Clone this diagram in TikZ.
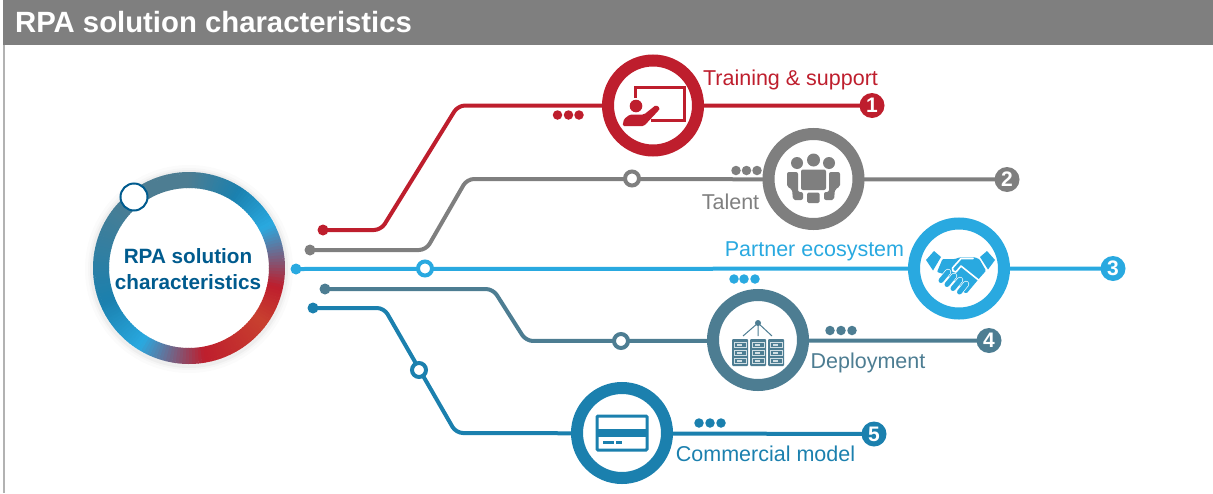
\documentclass[tikz,border=0pt]{standalone}
\usepackage{fontspec}
\setmainfont{Liberation Sans}
\usetikzlibrary{backgrounds}
\definecolor{cred}{HTML}{BE1E2D}
\definecolor{cgray}{HTML}{7F7F7F}
\definecolor{csky}{HTML}{29A9E0}
\definecolor{csteel}{HTML}{4D7D92}
\definecolor{cteal}{HTML}{1B80AE}
\definecolor{cnavy}{HTML}{005B8E}
\definecolor{corange}{HTML}{C8402F}
\tikzset{
 wire/.style={line width=4pt,line join=round,rounded corners=7pt},
 enddot/.style={circle,fill=#1,inner sep=0pt,minimum size=11pt},
 hollow/.style={circle,draw=#1,fill=white,line width=4pt,inner sep=0pt,minimum size=14pt},
 bigring/.style={circle,draw=#1,fill=white,line width=12pt,inner sep=0pt,minimum size=90pt},
 badge/.style={circle,fill=#1,text=white,inner sep=0pt,minimum size=25pt,font=\fontsize{21}{21}\selectfont\bfseries},
 pip/.style={circle,fill=#1,inner sep=0pt,minimum size=9.5pt},
 lab/.style={text=#1,font=\fontsize{21.5}{23}\selectfont,inner sep=0pt,anchor=center},
}
\begin{document}
\begin{tikzpicture}[x=1pt,y=-1pt]
\useasboundingbox (0,0) rectangle (1213,493);
% frame and header
\node[fill=cgray,inner sep=0pt,minimum width=1210pt,minimum height=45pt,anchor=north west] (head) at (3,0) {};
\node[text=white,font=\fontsize{29.3}{30}\selectfont\bfseries,anchor=west,inner sep=0pt] (title) at (15,22.5) {RPA solution characteristics};
\coordinate (fa) at (4,45); \coordinate (fb) at (4,493);
\draw[color=cgray!60,line width=2pt] (fa) -- (fb);
% hub shadow
\foreach \r/\o in {104/.015,101/.02,99/.03}{\fill[black,opacity=\o] (189,269) circle[radius=\r];}
% hub
\node[circle,fill=white,minimum size=166pt,inner sep=0pt,align=center,text=cnavy,font=\fontsize{20.7}{26}\selectfont\bfseries] (hub) at (188,269.5) {RPA solution\\characteristics};
\coordinate (hc) at (189,268);
\foreach \aa/\ab/\ca/\cb in {
 130/90/csteel/csteel, 90/58/csteel/cteal, 58/28/cteal/csky, 28/-12/csky/cred,
 -12/-36/cred/corange, -36/-80/corange/cred, -80/-122/cred/csky, -122/-158/csky/cteal, -158/-230/cteal/csteel}{
 \pgfmathtruncatemacro\n{(\aa-(\ab))/2}
 \foreach \i in {1,...,\n}{
  \pgfmathsetmacro\s{-(\aa-(\i-1)*2)}
  \pgfmathsetmacro\e{\s+2.4}
  \pgfmathsetmacro\p{100*(\i-.5)/\n}
  \draw[line width=16pt,color=\cb!\p!\ca] (hc) ++(\s:88) arc[start angle=\s,end angle=\e,radius=88];
 }
}
\node[circle,draw=cnavy,fill=white,line width=2pt,inner sep=0pt,minimum size=27pt] (knob) at (134,197) {};

% end dots
\node[enddot=cred] (d1) at (323,230) {};
\node[enddot=cgray] (d2) at (310,250) {};
\node[enddot=csky] (d3) at (296,269) {};
\node[enddot=csteel] (d4) at (325,289) {};
\node[enddot=cteal] (d5) at (313,308) {};
% bends
\coordinate (b1a) at (381,230); \coordinate (b1b) at (458,105.5);
\coordinate (b2a) at (426,250); \coordinate (b2b) at (467,179);
\coordinate (b4a) at (493,289); \coordinate (b4b) at (526,341);
\coordinate (b5a) at (384,308); \coordinate (b5b) at (456,433);
% big rings
\node[bigring=cred] (r1) at (653,105.5) {};
\node[bigring=cgray] (r2) at (813.5,179) {};
\node[bigring=csky] (r3) at (959,268.5) {};
\node[bigring=csteel] (r4) at (758,340) {};
\node[bigring=cteal] (r5) at (622,433) {};
% badges
\node[badge=cred] (n1) at (872,105.5) {1};
\node[badge=cgray] (n2) at (1007,179.5) {2};
\node[badge=csky] (n3) at (1113,268.5) {3};
\node[badge=csteel] (n4) at (989,340.5) {4};
\node[badge=cteal] (n5) at (874,434) {5};
% hollow stops
\node[hollow=cgray] (h2) at (632,178.5) {};
\node[hollow=csky] (h3) at (425,268.5) {};
\node[hollow=csteel] (h4) at (621,341) {};
\node[hollow=cteal] (h5) at (419,370) {};
% wires
\begin{scope}[on background layer]
\draw[wire,cred] (d1.center) -- (b1a) -- (b1b) -- (n1.center);
\draw[wire,cgray] (d2.center) -- (b2a) -- (b2b) -- (n2.center);
\draw[wire,csky] (d3.center) -- (n3.center);
\draw[wire,csteel] (d4.center) -- (b4a) -- (b4b) -- (n4.center);
\draw[wire,cteal] (d5.center) -- (b5a) -- (b5b) -- (n5.center);
\end{scope}
% pips
\foreach \x [count=\k] in {557.5,568.5,579}{\node[pip=cred] (p1\k) at (\x,115) {};}
\foreach \x [count=\k] in {736,746.5,757}{\node[pip=cgray] (p2\k) at (\x,170.5) {};}
\foreach \x [count=\k] in {734,744,755}{\node[pip=csky] (p3\k) at (\x,279) {};}
\foreach \x [count=\k] in {830,841,852}{\node[pip=csteel] (p4\k) at (\x,330.5) {};}
\foreach \x [count=\k] in {699,710,721}{\node[pip=cteal] (p5\k) at (\x,423) {};}
% labels
\node[lab=cred] (l1) at (790.5,80) {Training \& support};
\node[lab=cgray] (l2) at (730.5,202) {Talent};
\node[lab=csky] (l3) at (814.5,251.5) {Partner ecosystem};
\node[lab=csteel] (l4) at (868,363) {Deployment};
\node[lab=cteal] (l5) at (765.5,454) {Commercial model};

% icon 1: presenter at board
\draw[cred,line width=3pt,line join=miter] (635,98) -- (635,87) -- (684,87) -- (684,120) -- (651,120);
\fill[cred] (636,106) circle[radius=6.3];
\fill[cred,rounded corners=1.5pt] (622.5,126) -- (624,119) -- (630,114.5) -- (644,114.5) -- (656,105) -- (660,108) -- (659,110) -- (644,126) -- cycle;

% icon 2: meeting table
\fill[cgray] (797,163) circle[radius=6];
\fill[cgray] (813.5,160) circle[radius=6.5];
\fill[cgray] (829,163) circle[radius=6];
\fill[cgray,rounded corners=2pt] (801,169.5) rectangle (826,190);
\fill[cgray,rounded corners=2pt] (787,172) -- (798,172) -- (798,192) -- (803,192) -- (803,200) -- (793,200) -- (792,189) -- (787,187) -- cycle;
\fill[cgray,rounded corners=2pt] (840,172) -- (829,172) -- (829,192) -- (824,192) -- (824,200) -- (834,200) -- (835,189) -- (840,187) -- cycle;
\fill[cgray,rounded corners=1.5pt] (807,192.5) rectangle (819.5,203);

% icon 3: handshake
\fill[csky] (926,260) -- (934,251) -- (941,257) -- (933,270.5) -- cycle;
\fill[csky] (980,257) -- (987,251) -- (995,260) -- (988,269.5) -- cycle;
\fill[csky,rounded corners=1pt] (942.5,259) -- (955,259) -- (960,257.3) -- (975,257.3) -- (979.5,259.3) -- (986,270.7) -- (979.3,278.3) -- (966.7,293.3) -- (963,292) -- (958,283) -- (946.7,275) -- (937,272) -- cycle;
\draw[white,line width=1.6pt,line join=round,line cap=round] (973,258.5) -- (961,258.5) -- (952.5,268) -- (953,271) -- (956,272) -- (961,266) -- (978.5,280);
\foreach \xa/\ya/\xb/\yb in {941/280.5/948/272, 947/284.5/954/276, 953/288.5/960/280, 959.5/292/966/284}{
 \draw[white,line width=6.4pt,line cap=round] (\xa,\ya) -- (\xb,\yb);
 \draw[csky,line width=5pt,line cap=round] (\xa,\ya) -- (\xb,\yb);
}

% icon 4: servers on a network
\fill[csteel] (758,323) circle[radius=3];
\draw[csteel,line width=1pt] (758,323) -- (743,336) (758,323) -- (758,336) (758,323) -- (772,336);
\foreach \xx in {732,750,768}{
 \fill[csteel,rounded corners=1pt] (\xx,339) rectangle (\xx+16,366);
 \foreach \yy in {342,350,358}{
  \draw[white!75!csteel,fill=csteel,line width=1pt] (\xx+2,\yy) rectangle (\xx+14,\yy+5);
  \fill[white!75!csteel] (\xx+5,\yy+1.5) rectangle (\xx+10,\yy+3.5);
 }
}

% icon 5: card
\draw[cteal,line width=3pt,rounded corners=1pt] (597,416) rectangle (647,450);
\fill[cteal] (596,429) rectangle (648,437);
\fill[cteal] (603,441) rectangle (614,444);
\fill[cteal] (616,441) rectangle (622,444);
\end{tikzpicture}
\end{document}
